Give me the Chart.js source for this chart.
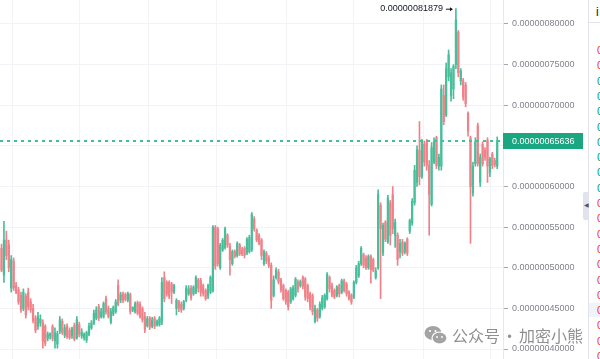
<!DOCTYPE html>
<html><head><meta charset="utf-8">
<script src="https://cdn.jsdelivr.net/npm/chart.js@4"></script>
<style>
html,body{margin:0;padding:0;width:600px;height:359px;overflow:hidden;background:#fff;font-family:"Liberation Sans",Arial,sans-serif}
#wrap{position:absolute;left:0;top:0;width:583px;height:359px}
.abs{position:absolute}
.row{position:absolute;left:597px;font-size:11px;line-height:12px}
</style></head><body>
<div class="abs" style="left:589px;top:303px;width:11px;height:14px;background:#f0f3fa"></div>
<div id="wrap"><canvas id="c"></canvas></div>
<div class="abs" style="left:588px;top:0;width:1px;height:359px;background:#e0e3eb"></div>
<div class="abs" style="left:589px;top:22px;width:11px;height:1px;background:#e0e3eb"></div>
<div class="abs" style="left:583px;top:192px;width:6px;height:28px;background:#e0e3eb;border-radius:2px 0 0 2px"></div>
<span class="abs" style="left:584px;top:201px;font-size:6px;line-height:8px;color:#50535e">◀</span>
<span class="abs" style="left:596px;top:5px;font-size:12px;line-height:14px;color:#131722">i</span>
<div id="rows"></div>
<div class="abs" style="left:424px;top:325px;height:20px;display:flex;align-items:center;color:#8f8f8f;font-family:'Noto Sans CJK SC';font-size:16px;line-height:20px;white-space:nowrap">
<svg width="24" height="20" viewBox="0 0 24 20">
 <ellipse cx="9" cy="8" rx="8.5" ry="7" fill="#a3a3a3"/>
 <ellipse cx="15.5" cy="13" rx="7.5" ry="6" fill="#a3a3a3" stroke="#fff" stroke-width="1.2"/>
 <circle cx="6" cy="6" r="1.1" fill="#fff"/><circle cx="11.5" cy="6" r="1.1" fill="#fff"/>
 <circle cx="13" cy="12" r="0.9" fill="#fff"/><circle cx="18" cy="12" r="0.9" fill="#fff"/>
</svg><span style="margin-left:4px">公众号</span><span style="display:inline-block;width:19px;text-align:center;overflow:hidden">·</span><span>加密小熊</span></div>
<script>
// Prices in units of 1e-9
const opens = [524,491,534,528,475,508,478,473,466,450,
465,470,458,450,438,428,432,432,428,413,
416,428,410,406,422,434,417,428,423,416,
429,414,430,416,414,411,418,426,432,438,
452,440,440,462,450,433,443,446,478,460,
468,467,460,467,448,446,457,455,450,440,
429,438,428,438,430,430,433,488,482,482,
480,470,450,458,455,450,460,468,475,468,
470,485,484,478,472,465,470,472,550,548,
500,522,525,540,527,505,520,515,528,522,
524,518,520,522,560,546,540,534,505,518,
512,503,466,488,495,485,478,472,470,458,
462,466,482,478,488,486,478,468,466,434,
448,440,450,452,462,488,478,472,466,478,
470,484,480,470,466,464,482,490,505,516,
512,500,514,510,488,500,577,518,556,532,
580,590,540,540,520,532,520,535,545,555,
580,605,645,612,652,655,626,578,630,660,
625,625,712,688,735,712,720,750,790,730,
730,725,690,660,592,628,675,605,652,645,
657,617,640,632,625];
const highs = [529,557,545,534,515,512,482,476,470,474,
468,475,462,455,441,445,442,436,430,421,
420,430,426,422,440,437,430,431,426,427,
432,440,433,425,420,422,432,435,448,452,
455,450,458,465,453,450,453,461,485,470,
470,469,470,469,452,458,459,458,452,445,
440,440,439,440,436,440,488,495,484,484,
482,480,462,460,458,460,478,478,478,478,
490,487,487,480,474,480,490,552,552,550,
530,536,550,542,530,522,522,532,530,525,
526,537,540,568,563,548,542,536,522,520,
515,506,490,500,498,487,480,474,472,476,
478,488,485,485,490,488,480,470,468,454,
450,458,466,468,494,490,481,474,478,480,
486,486,482,472,468,484,503,508,526,518,
515,516,516,512,500,596,580,555,558,589,
583,600,560,543,535,535,532,537,560,585,
626,650,680,658,656,658,632,654,660,662,
640,725,725,752,768,745,750,818.79,792,745,
733,728,692,662,630,660,678,640,655,648,
660,636,642,635,661];
const lows = [495,482,510,495,470,472,468,455,445,447,
438,448,445,432,420,424,428,401,404,410,
412,410,401,401,419,418,414,413,412,413,
410,412,415,413,411,408,416,424,430,436,
435,438,438,443,438,431,441,444,453,457,
457,459,458,443,446,444,442,438,433,420,
427,424,426,425,428,428,430,458,465,462,
456,468,442,446,445,448,458,466,460,466,
468,470,465,465,460,462,468,470,498,502,
498,520,523,525,491,503,512,513,515,515,
512,516,518,520,545,532,528,510,503,505,
500,450,464,486,480,470,460,455,448,456,
460,464,470,476,474,460,458,448,442,432,
434,438,448,450,460,470,464,462,464,464,
468,470,465,460,455,462,480,488,503,500,
498,498,481,495,486,498,462,515,532,530,
528,542,525,503,512,515,517,515,542,552,
577,600,602,610,625,620,540,576,628,622,
620,620,676,686,730,705,708,745,735,725,
706,698,662,530,588,625,625,600,625,632,
605,612,622,624,622];
const closes = [497,534,515,500,510,475,470,458,448,470,
442,452,448,435,423,440,437,410,407,418,
419,413,420,419,436,420,426,415,414,425,
412,436,418,421,418,420,428,432,444,448,
438,446,456,446,440,446,451,458,455,467,
460,461,468,446,451,456,444,440,436,424,
437,427,436,428,434,438,482,462,468,465,
470,478,460,450,448,458,475,474,463,476,
488,475,470,468,462,478,488,550,502,505,
528,534,548,528,510,520,514,530,517,517,
515,535,537,566,548,534,530,515,520,508,
503,460,485,497,483,473,462,458,452,474,
475,486,474,483,477,464,462,452,446,450,
438,455,463,466,492,474,466,464,476,468,
484,472,468,462,458,482,500,505,524,503,
500,514,498,497,496,590,548,552,535,586,
540,548,556,510,530,518,530,518,558,582,
620,645,612,654,630,626,590,648,655,626,
636,720,680,745,762,740,748,805,740,742,
710,702,668,600,625,655,628,636,628,636,
625,634,626,627,656.36];
const yTicks = [400,450,500,550,600,650,700,750,800];
const xGrid = [4.32,32.3,60.29,88.68,117.08,145.06,173.46,201.44];
const panelRows = ['r','r','g','g','g','g','g','g','g','g','r','r','r','r','r','r','r','r','r','r','r'];

const UNIT = 1e-9;
const fmt = v => (v*UNIT).toFixed(11);
const n = closes.length;
const idx = closes.map((_, i) => i);
const UP = '#48be9a', DN = '#ef8289';
const colors = idx.map(i => closes[i] >= opens[i] ? UP : DN);

const rowsEl = document.getElementById('rows');
panelRows.forEach((c, k) => {
  const s = document.createElement('span');
  s.className = 'row';
  s.style.top = (44 + k * 15.3) + 'px';
  s.style.color = c === 'g' ? '#089981' : '#f23645';
  s.textContent = '0';
  rowsEl.appendChild(s);
});

const overlay = {
  id: 'overlay',
  afterDraw(chart) {
    const {ctx, chartArea: a, scales: {x, y}} = chart;
    const last = closes[n - 1];
    const py = Math.round(y.getPixelForValue(last));
    ctx.save();
    ctx.strokeStyle = '#45bd9c';
    ctx.lineWidth = 2;
    ctx.setLineDash([3, 4]);
    ctx.beginPath();
    ctx.moveTo(a.left, py);
    ctx.lineTo(a.right, py);
    ctx.stroke();
    ctx.setLineDash([]);
    ctx.fillStyle = '#1aa680';
    ctx.fillRect(a.right, py - 8, 80, 16);
    ctx.fillStyle = '#ffffff';
    ctx.font = '9px "Liberation Sans", Arial, sans-serif';
    ctx.textBaseline = 'middle';
    ctx.textAlign = 'left';
    ctx.fillText(fmt(last), a.right + 9, py + 0.5);
    // max annotation
    let mi = 0;
    highs.forEach((h, i) => { if (h > highs[mi]) mi = i; });
    const hx = x.getPixelForValue(mi);
    const hy = y.getPixelForValue(highs[mi]);
    ctx.fillStyle = '#131722';
    ctx.textAlign = 'right';
    ctx.fillText(fmt(highs[mi]), hx - 13, hy);
    ctx.strokeStyle = '#131722';
    ctx.lineWidth = 1;
    ctx.beginPath();
    ctx.moveTo(hx - 10, hy + 0.5); ctx.lineTo(hx - 4, hy + 0.5);
    ctx.stroke();
    ctx.beginPath();
    ctx.moveTo(hx - 3, hy + 0.5); ctx.lineTo(hx - 6, hy - 1.5); ctx.lineTo(hx - 6, hy + 2.5); ctx.closePath();
    ctx.fill();
    ctx.restore();
  }
};

new Chart(document.getElementById('c'), {
  type: 'bar',
  data: {
    datasets: [
      {data: idx.map(i => ({x: i, y: [lows[i], highs[i]]})), backgroundColor: colors, barThickness: 1, grouped: false, order: 2},
      {data: idx.map(i => ({x: i, y: [opens[i], closes[i]]})), backgroundColor: colors, barThickness: 1.6, grouped: false, minBarLength: 1, order: 1}
    ]
  },
  options: {
    responsive: true, maintainAspectRatio: false, animation: false, devicePixelRatio: 1,
    layout: {padding: 0},
    plugins: {legend: {display: false}, tooltip: {enabled: false}},
    scales: {
      x: {
        type: 'linear', min: -0.62, max: 206.38, offset: false,
        grid: {color: '#f1f3f7', drawTicks: false, offset: false},
        border: {display: false},
        ticks: {display: false},
        afterBuildTicks: s => { s.ticks = xGrid.map(v => ({value: v})); },
        afterFit: s => { s.height = 0; s.paddingLeft = 0; s.paddingRight = 0; }
      },
      y: {
        position: 'right', min: 387.7, max: 829.5, beginAtZero: false,
        grid: {color: '#f1f3f7', tickLength: 5, tickColor: '#a3a6af'},
        border: {display: true, color: '#e6e8ee'},
        ticks: {color: '#80838c', font: {family: '"Liberation Sans", Arial, sans-serif', size: 9}, padding: 4, callback: v => fmt(v)},
        afterBuildTicks: s => { s.ticks = yTicks.map(v => ({value: v})); },
        afterFit: s => { s.width = 80; s.paddingTop = 0; s.paddingBottom = 0; }
      }
    }
  },
  plugins: [overlay]
});
</script>
</body></html>
